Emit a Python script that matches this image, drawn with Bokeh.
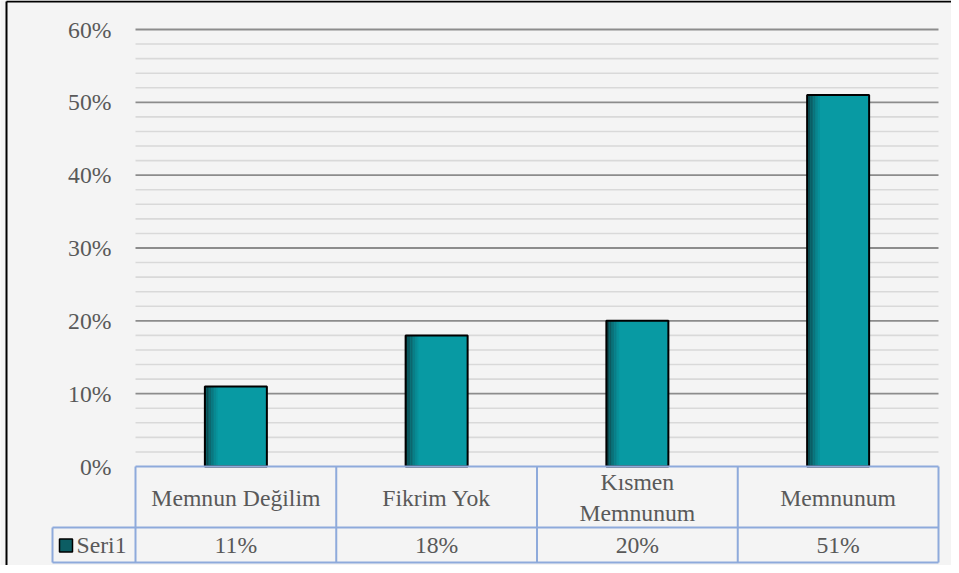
import numpy as np
from bokeh.plotting import figure
from bokeh.models import ColumnDataSource, Range1d
from bokeh.core.properties import value
from bokeh.transform import dodge
from bokeh.embed import file_html
from bokeh.resources import INLINE

# ---- data ----
categories = ["Memnun Değilim", "Fikrim Yok", "Kısmen Memnunum", "Memnunum"]
category_labels = ["Memnun Değilim", "Fikrim Yok", "Kısmen\nMemnunum", "Memnunum"]
values = [0.11, 0.18, 0.20, 0.51]
series_name = "Seri1"
y_ticks = [0.0, 0.1, 0.2, 0.3, 0.4, 0.5, 0.6]
y_tick_labels = ["0%", "10%", "20%", "30%", "40%", "50%", "60%"]
minor_step = 0.02

# ---- layout constants ----
W, H = 951, 565
ORIGIN = 0
X0_PAGE, Y0_PAGE = 135, 466   # picture position of data (0, 0)
PX_X = 200.75          # pixels per category
PX_Y = 728.33          # pixels per unit of value
x_start = (ORIGIN - X0_PAGE) / PX_X
x_end = (ORIGIN + W - X0_PAGE) / PX_X
y_end = (Y0_PAGE - ORIGIN) / PX_Y
y_start = (Y0_PAGE - ORIGIN - H) / PX_Y

FONT = value("Liberation Serif, Times New Roman, serif")
TXT = "#595959"
FS = "23.7px"
BLUE = "#8eaadb"
TEAL = "#089aa3"

n = len(categories)
xpos = np.arange(n) + 0.5

p = figure(width=W, height=H, output_backend="svg", toolbar_location=None,
           x_range=Range1d(x_start, x_end), y_range=Range1d(y_start, y_end),
           x_axis_location=None, y_axis_location=None, min_border=0,
           background_fill_color="#f4f4f4", border_fill_color="#f4f4f4")
p.outline_line_color = None
p.xgrid.visible = False
p.ygrid.visible = False

# ---- grid lines ----
top = max(y_ticks)
minor = [round(v, 4) for v in np.arange(0, top + 1e-9, minor_step)
         if all(abs(v - t) > 1e-6 for t in y_ticks)]
p.segment(x0=[0] * len(minor), x1=[n] * len(minor), y0=minor, y1=minor,
          line_color="#d9d9d9", line_width=1.6)
major = [t for t in y_ticks if t > 0]
p.segment(x0=[0] * len(major), x1=[n] * len(major), y0=major, y1=major,
          line_color="#8c8c8c", line_width=1.8)

# ---- tick labels ----
p.text(x=[0] * len(y_ticks), y=y_ticks, text=y_tick_labels, x_offset=-24,
       text_align="right", text_baseline="middle", text_font=FONT,
       text_font_size=FS, text_color=TXT)

# ---- bars ----
BAR_W = 62 / PX_X
src = ColumnDataSource(dict(x=xpos, top=values))
p.vbar(x="x", top="top", width=BAR_W, source=src, fill_color=TEAL, line_color=None)
strip_colors = ["#093e43", "#0b4c52", "#0c5a60", "#0c676e", "#0b737b",
                "#0a7e87", "#098891", "#08919a"]
sw = 1.6 / PX_X
for i, c in enumerate(strip_colors):
    off = -BAR_W / 2 + (i + 0.5) * sw
    p.vbar(x=dodge("x", off, range=p.x_range), top="top", width=sw, source=src,
           fill_color=c, line_color=None)
p.vbar(x="x", top="top", width=BAR_W, source=src, fill_color=None,
       line_color="black", line_width=2)

# ---- data table ----
r1 = -61 / PX_Y
r2 = -96 / PX_Y
leg_left = (52 - X0_PAGE) / PX_X
hx0 = [0, leg_left, leg_left]
hx1 = [n, n, n]
hy = [0, r1, r2]
p.segment(x0=hx0, x1=hx1, y0=hy, y1=hy, line_color=BLUE, line_width=2)
vx = list(range(n + 1)) + [leg_left]
vy0 = [0] * (n + 1) + [r1]
vy1 = [r2] * (n + 2)
p.segment(x0=vx, x1=vx, y0=vy0, y1=vy1, line_color=BLUE, line_width=2)

p.text(x=xpos, y=[0] * n, text=category_labels, y_offset=31,
       text_align="center", text_baseline="middle", text_font=FONT,
       text_font_size=FS, text_color=TXT, text_line_height=1.2)
p.text(x=xpos, y=[r1] * n, text=[f"{round(v * 100)}%" for v in values],
       y_offset=17, text_align="center", text_baseline="middle", text_font=FONT,
       text_font_size=FS, text_color=TXT)

# legend cell
sq_x = leg_left + 13.5 / PX_X
sq_y = r1 - 18 / PX_Y
p.scatter(x=[sq_x], y=[sq_y], marker="square", size=13,
          fill_color="#0c5d63", line_color="black", line_width=1.5)
p.text(x=[leg_left], y=[r1], text=[series_name], x_offset=24, y_offset=17,
       text_align="left", text_baseline="middle", text_font=FONT,
       text_font_size=FS, text_color=TXT)

# outer border (left & top)
bx = x_start + 6 / PX_X
by = y_end - 1 / PX_Y
p.segment(x0=[bx, bx], x1=[bx, x_end], y0=[y_start, by], y1=[by, by],
          line_color="black", line_width=2)

open("out.html", "w").write(file_html(p, INLINE))
